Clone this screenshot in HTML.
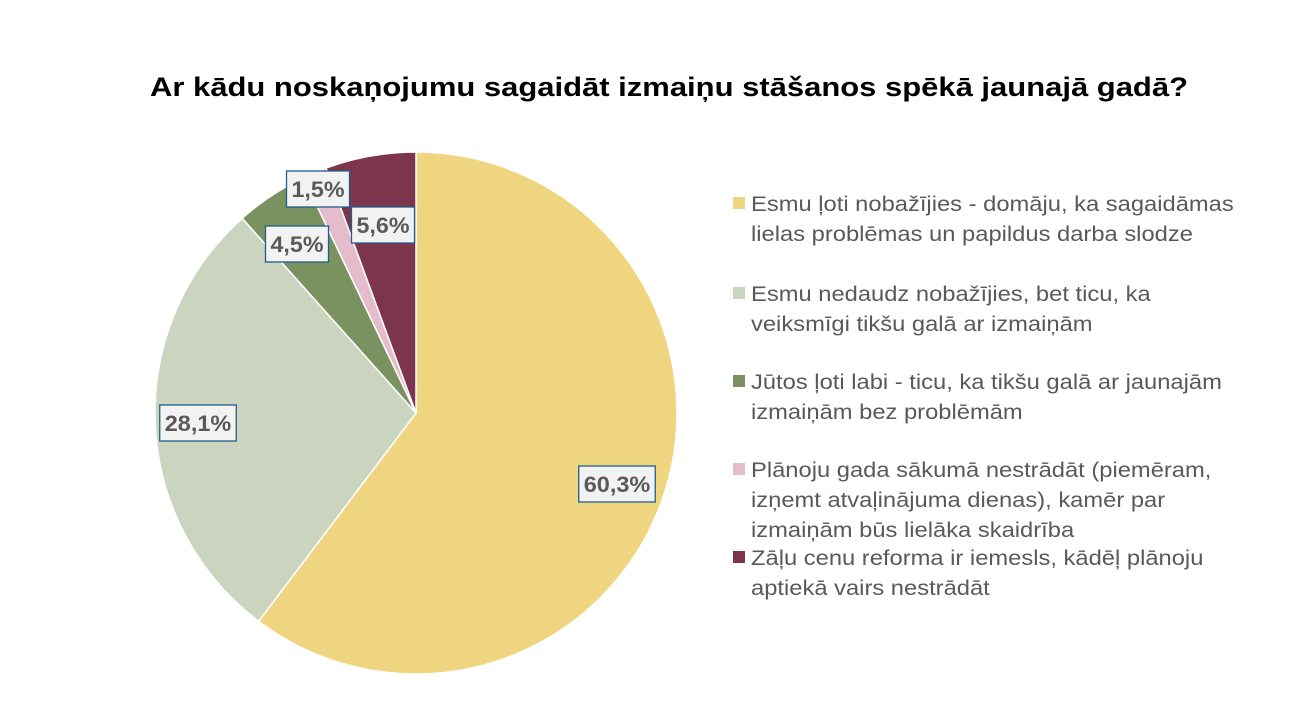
<!DOCTYPE html>
<html><head><meta charset="utf-8"><style>
body{margin:0;background:#fff;width:1298px;height:719px;overflow:hidden;font-family:"Liberation Sans",sans-serif}
</style></head><body>
<svg width="1298" height="719">
<text x="150" y="96" font-size="27" font-weight="bold" fill="#000" textLength="1038" lengthAdjust="spacingAndGlyphs">Ar kādu noskaņojumu sagaidāt izmaiņu stāšanos spēkā jaunajā gadā?</text>
<g id="slices"></g><g id="labels"></g><g id="legend"></g>
</svg>
<script>
const categories=[["Esmu ļoti nobažījies - domāju, ka sagaidāmas","lielas problēmas un papildus darba slodze"],["Esmu nedaudz nobažījies, bet ticu, ka","veiksmīgi tikšu galā ar izmaiņām"],["Jūtos ļoti labi - ticu, ka tikšu galā ar jaunajām","izmaiņām bez problēmām"],["Plānoju gada sākumā nestrādāt (piemēram,","izņemt atvaļinājuma dienas), kamēr par","izmaiņām būs lielāka skaidrība"],["Zāļu cenu reforma ir iemesls, kādēļ plānoju","aptiekā vairs nestrādāt"]];
const values=[60.3,28.1,4.5,1.5,5.6];
const valueLabels=["60,3%","28,1%","4,5%","1,5%","5,6%"];
const colors=["#f0d580","#cbd4bf","#7a9160","#e4bccb","#7d344d"];
const NS="http://www.w3.org/2000/svg";
const cx=416,cy=413,R=261;
const total=values.reduce((a,b)=>a+b,0);
function pt(f,r){const a=f*2*Math.PI;return [cx+r*Math.sin(a),cy-r*Math.cos(a)];}
const gS=document.getElementById('slices'),gL=document.getElementById('labels'),gG=document.getElementById('legend');
const labelPos=[[617,484],[198,423],[297,244],[318,189],[383,225]];
let acc=0;
values.forEach((v,i)=>{
 const f0=acc/total,f1=(acc+v)/total;acc+=v;
 const [x0,y0]=pt(f0,R),[x1,y1]=pt(f1,R);
 const p=document.createElementNS(NS,'path');
 p.setAttribute('d',`M${cx},${cy}L${x0},${y0}A${R},${R} 0 ${f1-f0>0.5?1:0} 1 ${x1},${y1}Z`);
 p.setAttribute('fill',colors[i]);p.setAttribute('stroke','#fff');p.setAttribute('stroke-width','1.5');
 
 
 gS.appendChild(p);
 const [lx,ly]=labelPos[i];const w=valueLabels[i].length*13.5+9;
 const r=document.createElementNS(NS,'rect');
 r.setAttribute('x',lx-w/2);r.setAttribute('y',ly-18);r.setAttribute('width',w);r.setAttribute('height',36);
 r.setAttribute('fill','#f2f2f2');r.setAttribute('stroke','#1f5f8b');r.setAttribute('stroke-width','1.3');
 
 
 gL.appendChild(r);
 const t=document.createElementNS(NS,'text');
 t.setAttribute('x',lx);t.setAttribute('y',ly+8);t.setAttribute('text-anchor','middle');
 t.setAttribute('font-size','22');t.setAttribute('font-weight','bold');t.setAttribute('fill','#595959');
 t.setAttribute('textLength',w-10);t.setAttribute('lengthAdjust','spacingAndGlyphs');
 t.textContent=valueLabels[i];
 
 
 gL.appendChild(t);
});
const legY=[203,293,381,469,557];
categories.forEach((lines,i)=>{
 const s=document.createElementNS(NS,'rect');
 s.setAttribute('x',733);s.setAttribute('y',legY[i]-6);s.setAttribute('width',12);s.setAttribute('height',12);s.setAttribute('fill',colors[i]);
 
 
 gG.appendChild(s);
 lines.forEach((ln,j)=>{
  const t=document.createElementNS(NS,'text');
  t.setAttribute('x',751);t.setAttribute('y',legY[i]+8+j*30);t.setAttribute('font-size','21');t.setAttribute('fill','#595959');
  t.textContent=ln;
  
  
  gG.appendChild(t);
  const L=t.getComputedTextLength();
  t.setAttribute('textLength',L*1.13);
  t.setAttribute('lengthAdjust','spacingAndGlyphs');
 });
});
</script>
</body></html>
